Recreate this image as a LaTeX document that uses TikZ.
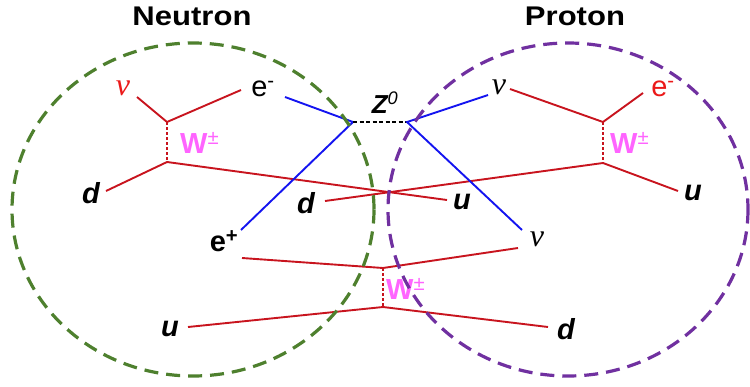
\documentclass[tikz,border=0pt]{standalone}
\usepackage{fontspec}
\setmainfont{Liberation Sans}
\newfontfamily\nufont{Liberation Serif}
\definecolor{qred}{RGB}{200,20,30}
\definecolor{zblue}{RGB}{20,20,240}
\definecolor{wpink}{RGB}{255,100,255}
\definecolor{lred}{RGB}{235,25,25}
\definecolor{ngreen}{RGB}{78,128,46}
\definecolor{ppurple}{RGB}{112,48,160}
\newcommand{\hstr}[1]{\scalebox{1.15}[1]{#1}}
\tikzset{
  x=1pt,y=-1pt,
  quark/.style={draw=qred,line width=1.9pt},
  zbos/.style={draw=zblue,line width=1.9pt},
  wbos/.style={draw=qred,line width=1.6pt,dash pattern=on 3pt off 2pt},
  zdash/.style={draw=black,line width=1.5pt,dash pattern=on 4pt off 2.5pt},
  hadron/.style={line width=3.2pt,dash pattern=on 14pt off 8pt},
  lab/.style={inner sep=0pt,anchor=center},
  title/.style={lab,font=\fontsize{27}{30}\selectfont\bfseries},
  elab/.style={lab,font=\fontsize{29}{30}\selectfont},
  qlab/.style={lab,font=\fontsize{29}{30}\selectfont\bfseries\itshape},
  nulab/.style={lab,font=\fontsize{32}{30}\selectfont\nufont\itshape},
  wlab/.style={inner sep=0pt,anchor=west,text=wpink,font=\fontsize{29}{30}\selectfont\bfseries},
}
\begin{document}
\begin{tikzpicture}
\useasboundingbox (0,0) rectangle (750,386);
% titles
\node[title] (tn) at (192,16) {\hstr{Neutron}};
\node[title] (tp) at (575,16) {\hstr{Proton}};
% coordinates
\coordinate (nV1) at (167,122);
\coordinate (nV2) at (167,162);
\coordinate (nnuE) at (137,97);
\coordinate (neE) at (241,90);
\coordinate (ndE) at (106,191);
\coordinate (cuE) at (447,200);
\coordinate (pV1) at (603,122);
\coordinate (pV2) at (603,163);
\coordinate (pnuE) at (510,89);
\coordinate (peE) at (643,93);
\coordinate (puE) at (678,191);
\coordinate (cdE) at (325,201);
\coordinate (zL) at (353,122);
\coordinate (zR) at (407,122);
\coordinate (zeS) at (285,97);
\coordinate (zepE) at (241,230);
\coordinate (znuE) at (488,95);
\coordinate (znu2E) at (522,230);
\coordinate (bV3) at (383,268);
\coordinate (bV4) at (383,307);
\coordinate (bl1) at (242,258);
\coordinate (br1) at (518,248);
\coordinate (buE) at (188,327);
\coordinate (bdE) at (548,327);
% labels
\node[nulab,text=lred] (nnu) at (123,88) {ν};
\node[elab] (ne) at (263,89) {e\textsuperscript{-}};
\node[qlab] (nd) at (91,193) {d};
\node[wlab] (nw) at (180,143) {W\textsuperscript{\mdseries ±}};
\node[qlab] (cu) at (462,202) {u};
\node[qlab] (cd) at (306,203) {d};
\node[nulab] (pnu) at (499,87) {ν};
\node[elab,text=lred] (pe) at (663,89) {e\textsuperscript{-}};
\node[wlab] (pw) at (610,143) {W\textsuperscript{\mdseries ±}};
\node[qlab] (pu) at (693,193) {u};
\node[lab,font=\fontsize{26}{30}\selectfont\bfseries\itshape] (z0) at (385,103) {Z\textsuperscript{\mdseries 0}};
\node[elab,font=\fontsize{29}{30}\selectfont\bfseries] (ep) at (224,241) {e\textsuperscript{+}};
\node[nulab] (bnu) at (537,239) {ν};
\node[wlab] (bw) at (386,289) {W\textsuperscript{\mdseries ±}};
\node[qlab] (bu) at (170,329) {u};
\node[qlab] (bd) at (566,329) {d};
% neutron lines
\draw[quark] (nnuE) -- (nV1) -- (neE);
\draw[wbos] (nV1) -- (nV2);
\draw[quark] (ndE) -- (nV2) -- (cuE);
% proton lines
\draw[quark] (pnuE) -- (pV1) -- (peE);
\draw[wbos] (pV1) -- (pV2);
\draw[quark] (puE) -- (pV2) -- (cdE);
% Z exchange
\draw[zbos] (zeS) -- (zL) -- (zepE);
\draw[zdash] (zL) -- (zR);
\draw[zbos] (znuE) -- (zR) -- (znu2E);
% bottom exchange
\draw[quark] (bl1) -- (bV3) -- (br1);
\draw[wbos] (bV3) -- (bV4);
\draw[quark] (buE) -- (bV4) -- (bdE);
% hadrons
\draw[hadron,draw=ngreen] (193,209.5) ellipse [x radius=181,y radius=166.5];
\draw[hadron,draw=ppurple] (568,209.5) ellipse [x radius=180,y radius=166.5];
\end{tikzpicture}
\end{document}
